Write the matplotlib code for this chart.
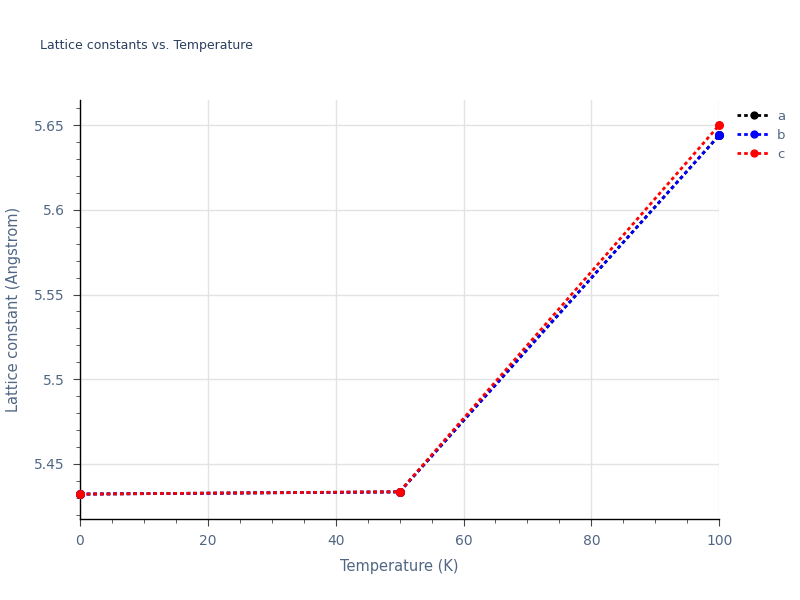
import numpy as np
import matplotlib.pyplot as plt
from matplotlib.ticker import MultipleLocator, FuncFormatter

# data
temperature = [0, 50, 100]
lat_a = [5.4322, 5.4335, 5.6440]
lat_b = [5.4322, 5.4335, 5.6440]
lat_c = [5.4322, 5.4336, 5.6500]

series = [("a", lat_a, "black"), ("b", lat_b, "blue"), ("c", lat_c, "red")]

text_col = "#2a3f5f"
tick_col = "#506784"
grid_col = "#e3e3e3"

fig = plt.figure(figsize=(8, 6), dpi=100)
ax = fig.add_axes([0.1, 0.135, 0.799, 0.698])

for name, vals, col in series:
    ax.plot(temperature, vals, linestyle=(0, (1.3, 1.1)), linewidth=2.0,
            color=col, marker="o", markersize=5.5, label=name,
            clip_on=False, zorder=3)

ax.set_xlim(0, 100)
ax.set_ylim(5.4175, 5.6647)
ax.xaxis.set_major_locator(MultipleLocator(20))
ax.xaxis.set_minor_locator(MultipleLocator(5))
ax.yaxis.set_major_locator(MultipleLocator(0.05))
ax.yaxis.set_minor_locator(MultipleLocator(0.01))
ax.yaxis.set_major_formatter(FuncFormatter(lambda v, p: f"{v:.3f}".rstrip("0").rstrip(".")))

ax.grid(True, which="major", color=grid_col, linewidth=1)
ax.set_axisbelow(True)
for s in ["top", "right"]:
    ax.spines[s].set_visible(False)
for s in ["left", "bottom"]:
    ax.spines[s].set_color("black")
    ax.spines[s].set_linewidth(1)

ax.tick_params(which="major", direction="out", length=5, color="#444444",
               labelcolor=tick_col, labelsize=10, pad=6)
ax.tick_params(which="minor", direction="out", length=3, color="#444444")

ax.set_xlabel("Temperature (K)", color=tick_col, fontsize=10.5, labelpad=8)
ax.set_ylabel("Lattice constant (Angstrom)", color=tick_col, fontsize=10.5, labelpad=9)

fig.text(0.05, 0.918, "Lattice constants vs. Temperature", color=text_col, fontsize=9)

leg = ax.legend(loc="upper left", bbox_to_anchor=(1.02, 0.99), frameon=False,
                fontsize=9.5, handlelength=2.5, handletextpad=0.5, labelcolor=tick_col,
                borderaxespad=0.0, labelspacing=0.45, markerscale=0.9)

fig.savefig("out.png", dpi=100)
